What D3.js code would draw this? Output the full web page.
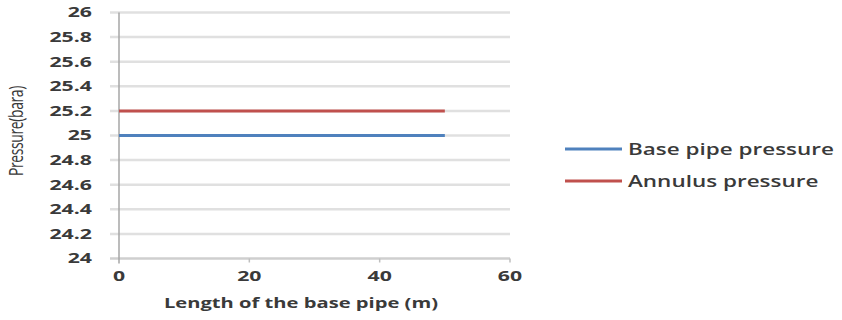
<!DOCTYPE html>
<html>
<head>
<meta charset="utf-8">
<script src="https://cdn.jsdelivr.net/npm/d3@7"></script>
<style>
  body { margin: 0; background: #fff; }
  svg text { font-family: "Open Sans", "DejaVu Sans", sans-serif; fill: #3a3a3a; }
</style>
</head>
<body>
<svg id="chart" width="842" height="320"></svg>
<script>
// data
const seriesNames = ['Base pipe pressure', 'Annulus pressure'];
const seriesColors = ['#4f81bd', '#c0504d'];
const lengthX = [0, 50];
const basePressure = [25, 25];
const annulusPressure = [25.2, 25.2];
const xTicks = [0, 20, 40, 60];
const yTicks = [24, 24.2, 24.4, 24.6, 24.8, 25, 25.2, 25.4, 25.6, 25.8, 26];

const svg = d3.select('#chart');

// stretch a text horizontally round its own anchor point
function wide(sel, sx) {
  sel.attr('transform', function () {
    const x = +d3.select(this).attr('x');
    const y = +d3.select(this).attr('y');
    return `translate(${x},${y}) scale(${sx},1) translate(${-x},${-y})`;
  });
}

const x = d3.scaleLinear().domain([0, 60]).range([119, 510]);
const y = d3.scaleLinear().domain([24, 26]).range([258.5, 12.5]);

// gridlines
svg.append('g')
  .selectAll('line')
  .data(yTicks)
  .enter().append('line')
  .attr('x1', 110)
  .attr('x2', x(60))
  .attr('y1', d => y(d))
  .attr('y2', d => y(d))
  .attr('stroke', d => d === 24 ? '#cfcfcf' : '#e0e0e0')
  .attr('stroke-width', 2.5);

// y axis line
svg.append('line')
  .attr('x1', x(0)).attr('x2', x(0))
  .attr('y1', y(26)).attr('y2', y(24) + 5)
  .attr('stroke', '#a6a6a6')
  .attr('stroke-width', 1.5);

// x tick marks
svg.append('g')
  .selectAll('line')
  .data(xTicks.slice(1))
  .enter().append('line')
  .attr('x1', d => x(d)).attr('x2', d => x(d))
  .attr('y1', y(24)).attr('y2', y(24) + 4)
  .attr('stroke', '#bfbfbf')
  .attr('stroke-width', 1.5);

// y tick labels
svg.append('g')
  .selectAll('text')
  .data(yTicks)
  .enter().append('text')
  .attr('x', 92)
  .attr('y', d => y(d) + 5)
  .attr('text-anchor', 'end')
  .attr('font-size', 14)
  .style('font-weight', 700)
  .text(d => d3.format('~g')(d))
  .call(wide, 1.52);

// x tick labels
svg.append('g')
  .selectAll('text')
  .data(xTicks)
  .enter().append('text')
  .attr('x', d => x(d))
  .attr('y', 281)
  .attr('text-anchor', 'middle')
  .attr('font-size', 14)
  .style('font-weight', 700)
  .text(d => d)
  .call(wide, 1.52);

// axis titles
svg.append('text')
  .attr('x', 301)
  .attr('y', 308)
  .attr('text-anchor', 'middle')
  .attr('font-size', 14)
  .style('font-weight', 700)
  .text('Length of the base pipe (m)')
  .call(wide, 1.44);

svg.append('text')
  .attr('transform', 'translate(23,131) rotate(-90) scale(1,1.45)')
  .attr('text-anchor', 'middle')
  .attr('font-size', 14)
  .style('font-weight', 400)
  .attr('letter-spacing', -0.4)
  .text('Pressure(bara)');

// series lines
const line = d3.line()
  .x((d, i) => x(lengthX[i]))
  .y(d => y(d));

[basePressure, annulusPressure].forEach((vals, i) => {
  svg.append('path')
    .datum(vals)
    .attr('d', line)
    .attr('fill', 'none')
    .attr('stroke', seriesColors[i])
    .attr('stroke-width', 3);
});

// legend
const legend = svg.append('g')
  .selectAll('g')
  .data(seriesNames)
  .enter().append('g')
  .attr('transform', (d, i) => `translate(565,${149 + i * 32})`);

legend.append('line')
  .attr('x1', 0).attr('x2', 57)
  .attr('stroke', (d, i) => seriesColors[i])
  .attr('stroke-width', 3);

legend.append('text')
  .attr('x', 63)
  .attr('y', 6)
  .attr('font-size', 15.5)
  .style('font-weight', 600)
  .text(d => d)
  .call(wide, 1.45);
</script>
</body>
</html>
